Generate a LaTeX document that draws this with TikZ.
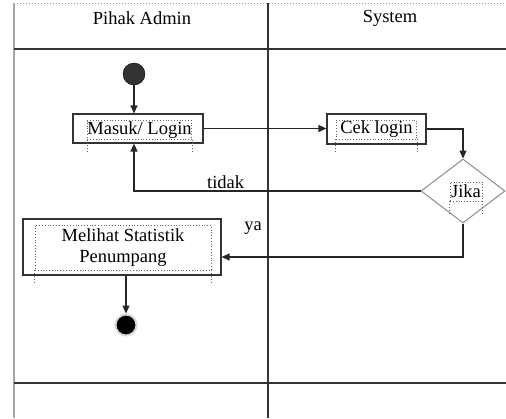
\documentclass[tikz,border=0pt]{standalone}
\usepackage{fontspec}
\setmainfont{Liberation Serif}
\usetikzlibrary{arrows.meta,shapes.geometric,positioning}

\tikzset{
  lane/.style={draw=black!80,line width=1.2pt},
  actbox/.style={draw=black!80,line width=1.2pt,rectangle,inner sep=0pt},
  txtframe/.style={draw=black!60,dotted,line width=0.8pt,inner xsep=2pt,inner ysep=1pt},
  flow/.style={draw=black!85,line width=1.2pt,-{Triangle[length=8pt,width=7pt]}},
  decide/.style={draw=black!45,line width=1pt,diamond,minimum width=84pt,minimum height=64pt,inner sep=0pt},
}

\begin{document}
\begin{tikzpicture}[x=1pt,y=-1pt,font=\fontsize{18.5}{21}\selectfont]

  \pgfmathsetmacro\laneL{14}
  \pgfmathsetmacro\laneM{268}
  \pgfmathsetmacro\hdr{49}
  \pgfmathsetmacro\base{383}
  \pgfmathsetmacro\tail{12}   % dotted text frame runs below its box

  \useasboundingbox (0,0) rectangle (506,418);

% swimlanes
  \draw[black!40,dotted,line width=1pt] (\laneL,3) -- (506,3);
  \draw[black!35,line width=2pt] (\laneL,3) -- (\laneL,418);
  \draw[lane] (\laneM,3) -- (\laneM,418);
  \draw[lane] (\laneL,\hdr) -- (506,\hdr);
  \draw[lane] (\laneL,\base) -- (506,\base);

  \node (admin)  at (142,18) {Pihak Admin};
  \node (system) at (390,18) {System};

% activities
  \node[circle,fill=black!80,draw=black,minimum size=22pt,inner sep=0pt] (start) at (134,74) {};

  \node[actbox,minimum width=130pt,minimum height=29pt] (masuk) at (138,128.5) {};
  \node[txtframe,inner xsep=0pt] (masuktxt) at (139.5,130) {Masuk/ Login};

  \node[actbox,minimum width=99pt,minimum height=30pt] (cek) at (376.5,129) {};
  \node[txtframe,inner xsep=4pt] (cektxt) at (376.5,129.5) {Cek login};

  \node[decide] (jika) at (463,191) {};
  \node[txtframe,inner xsep=1pt,inner ysep=3pt] (jikatxt) at (466,191.5) {Jika};

  \node[actbox,minimum width=198pt,minimum height=56pt] (melihat) at (122,247) {};
  \node[txtframe,minimum width=176pt,minimum height=45pt,align=center] (melihattxt) at (123,247.5)
       {Melihat Statistik\\Penumpang};

  \node[circle,fill=black,draw=black!15,line width=2pt,minimum size=21pt,inner sep=0pt] (end) at (126,325) {};

% text frame tails
  \foreach \t in {masuktxt,cektxt,jikatxt,melihattxt} {
    \draw[txtframe] (\t.south west) -- ++(0,\tail);
    \draw[txtframe] (\t.south east) -- ++(0,\tail);
  }

% flows
  \coordinate (yalevel) at (0,257);
  \draw[flow] (start) -- (start |- masuk.north);
  \draw[flow] (masuk.east) -- (masuk.east -| cek.west);
  \draw[flow] (cek.east) -| (jika.north);
  \draw[flow] (jika.west) -| (start |- masuk.south) node[pos=0.34,above,inner sep=2pt] (tidak) {tidak};
  \draw[flow] (jika.south) |- (melihat.east |- yalevel);
  \node (ya) at (253,228) {ya};
  \draw[flow] (melihat.south -| end) -- (end.north);

\end{tikzpicture}
\end{document}
